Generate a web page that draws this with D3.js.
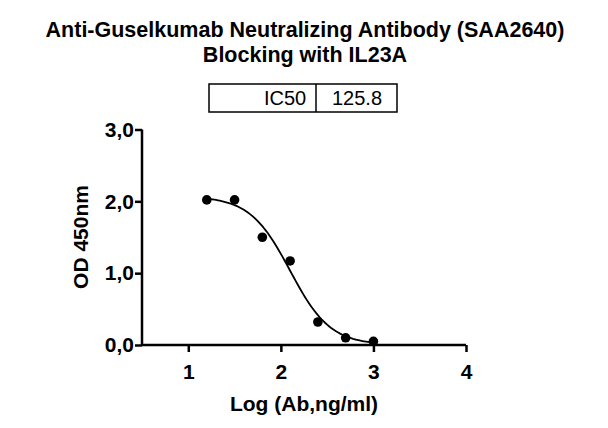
<!DOCTYPE html>
<html><head><meta charset="utf-8">
<script src="https://cdn.jsdelivr.net/npm/d3@7"></script>
<style>body{margin:0;background:#fff}text{font-family:Arial,"Liberation Sans",sans-serif}</style>
</head><body><svg id="c" width="608" height="428"></svg>
<script>
const logDose=[1.2,1.5,1.8,2.1,2.4,2.7,3.0];
const od=[2.02,2.02,1.5,1.17,0.32,0.1,0.05];
const xTicks=[1,2,3,4];
const yTicks=[0,1,2,3];
const fitTop=2.07, fitBottom=0.0, fitLogIC50=Math.log10(125.8), fitHill=2.0;
const ic50Label="125.8";

const svg=d3.select("#c");
const x=d3.scaleLinear().domain([0.5,4]).range([142,466]);
const y=d3.scaleLinear().domain([0,3]).range([345,129.5]);
const fmt=d=>d3.format(".1f")(d).replace(".",",");

svg.append("text").attr("x",305).attr("y",37).attr("text-anchor","middle").attr("font-size",21.5).attr("font-weight","bold").text("Anti-Guselkumab Neutralizing Antibody (SAA2640)");
svg.append("text").attr("x",305).attr("y",62).attr("text-anchor","middle").attr("font-size",21.5).attr("font-weight","bold").text("Blocking with IL23A");

const lg=svg.append("g");
lg.append("rect").attr("x",209).attr("y",84).attr("width",188).attr("height",28).attr("fill","none").attr("stroke","#000").attr("stroke-width",1.5);
lg.append("line").attr("x1",316).attr("x2",316).attr("y1",84).attr("y2",112).attr("stroke","#000").attr("stroke-width",1.5);
lg.append("text").attr("x",285).attr("y",105).attr("text-anchor","middle").attr("font-size",20).text("IC50");
lg.append("text").attr("x",357).attr("y",105).attr("text-anchor","middle").attr("font-size",20).text(ic50Label);

const xa=svg.append("g").attr("transform","translate(0,345)").call(d3.axisBottom(x).tickValues(xTicks).tickSize(7).tickSizeOuter(0).tickFormat(d3.format("d")));
const ya=svg.append("g").attr("transform","translate(142,0)").call(d3.axisLeft(y).tickValues(yTicks).tickSize(7).tickSizeOuter(0).tickFormat(fmt));
[xa,ya].forEach(a=>{a.selectAll("path,line").attr("stroke","#000").attr("stroke-width",2.5);a.selectAll("text").attr("font-size",21).attr("font-weight","bold").attr("fill","#000").attr("font-family","Arial,'Liberation Sans',sans-serif");});
xa.select(".domain").attr("d","M142,0H466");
ya.select(".domain").attr("d","M0,345V129.5");
xa.selectAll("text").attr("dy","1.15em");
ya.selectAll("text").attr("x",-8);

const f=l=>fitBottom+(fitTop-fitBottom)/(1+Math.pow(10,fitHill*(l-fitLogIC50)));
const cx=d3.range(logDose[0],logDose[logDose.length-1]+0.001,0.02);
svg.append("path").datum(cx).attr("fill","none").attr("stroke","#000").attr("stroke-width",1.8)
 .attr("d",d3.line().x(d=>x(d)).y(d=>y(f(d))));
svg.selectAll("circle.p").data(logDose).join("circle").attr("cx",d=>x(d)).attr("cy",(d,i)=>y(od[i])).attr("r",4.8).attr("fill","#000");

svg.append("text").attr("transform","translate(88,237) rotate(-90)").attr("text-anchor","middle").attr("font-size",21).attr("font-weight","bold").text("OD 450nm");
svg.append("text").attr("x",304).attr("y",411).attr("text-anchor","middle").attr("font-size",21).attr("font-weight","bold").text("Log (Ab,ng/ml)");
</script></body></html>
